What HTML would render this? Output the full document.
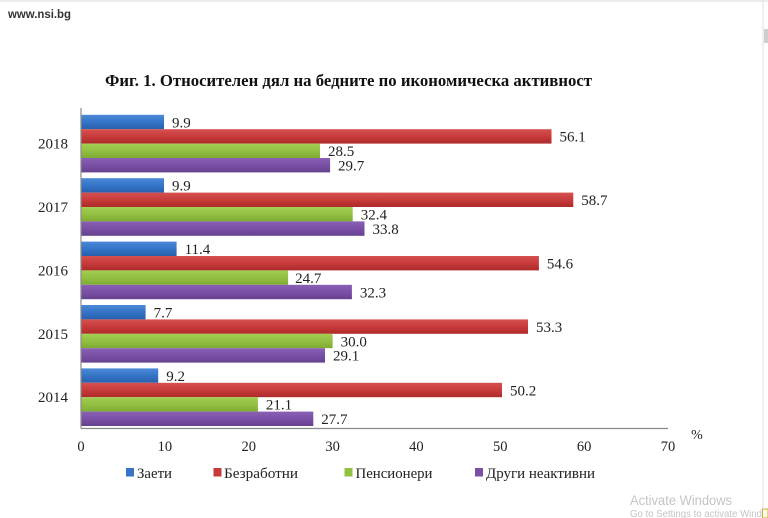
<!DOCTYPE html>
<html>
<head>
<meta charset="utf-8">
<style>
  html,body{margin:0;padding:0;background:#fff;}
  body{width:768px;height:518px;overflow:hidden;position:relative;}
  svg{display:block;}
  .ser{font-family:"Liberation Serif","Noto Serif CJK SC",serif;}
  .san{font-family:"Liberation Sans","Noto Sans CJK SC",sans-serif;}
</style>
</head>
<body>
<svg width="768" height="518" viewBox="0 0 768 518" xmlns="http://www.w3.org/2000/svg">
  <defs>
    <linearGradient id="gB" x1="0" y1="0" x2="0" y2="1">
      <stop offset="0" stop-color="#4a8ad8"/>
      <stop offset="0.5" stop-color="#3574c6"/>
      <stop offset="1" stop-color="#2860ad"/>
    </linearGradient>
    <linearGradient id="gR" x1="0" y1="0" x2="0" y2="1">
      <stop offset="0" stop-color="#d65050"/>
      <stop offset="0.5" stop-color="#c83b3b"/>
      <stop offset="1" stop-color="#ae2a2a"/>
    </linearGradient>
    <linearGradient id="gG" x1="0" y1="0" x2="0" y2="1">
      <stop offset="0" stop-color="#a3cf52"/>
      <stop offset="0.5" stop-color="#92c042"/>
      <stop offset="1" stop-color="#7eaa32"/>
    </linearGradient>
    <linearGradient id="gP" x1="0" y1="0" x2="0" y2="1">
      <stop offset="0" stop-color="#8a60b6"/>
      <stop offset="0.5" stop-color="#7a50a6"/>
      <stop offset="1" stop-color="#66408e"/>
    </linearGradient>
  </defs>

  <!-- browser chrome bits -->
  <rect x="0" y="0" width="768" height="2" fill="#ececec"/>
  <line x1="763" y1="0" x2="763" y2="518" stroke="#e2e2e2" stroke-width="1"/>
  <rect x="764" y="29" width="4" height="14" fill="#cfcfcf"/>

  <!-- site label -->
  <text x="8" y="18" class="san" font-size="11.5" font-weight="bold" fill="#333" textLength="63" lengthAdjust="spacingAndGlyphs">www.nsi.bg</text>

  <!-- title -->
  <text x="105" y="86" class="ser" font-size="16.5" font-weight="bold" fill="#111" textLength="487" lengthAdjust="spacingAndGlyphs">Фиг. 1. Относителен дял на бедните по икономическа активност</text>

  <!-- bars -->
  <g id="bars">
    <rect x="81" y="114.8" width="83.0" height="14.4" fill="url(#gB)"/>
    <rect x="81" y="129.2" width="470.5" height="14.4" fill="url(#gR)"/>
    <rect x="81" y="143.6" width="239.0" height="14.4" fill="url(#gG)"/>
    <rect x="81" y="158.0" width="249.1" height="14.4" fill="url(#gP)"/>

    <rect x="81" y="178.2" width="83.0" height="14.4" fill="url(#gB)"/>
    <rect x="81" y="192.6" width="492.3" height="14.4" fill="url(#gR)"/>
    <rect x="81" y="207.0" width="271.7" height="14.4" fill="url(#gG)"/>
    <rect x="81" y="221.4" width="283.5" height="14.4" fill="url(#gP)"/>

    <rect x="81" y="241.6" width="95.6" height="14.4" fill="url(#gB)"/>
    <rect x="81" y="256.0" width="457.9" height="14.4" fill="url(#gR)"/>
    <rect x="81" y="270.4" width="207.1" height="14.4" fill="url(#gG)"/>
    <rect x="81" y="284.8" width="270.9" height="14.4" fill="url(#gP)"/>

    <rect x="81" y="305.0" width="64.6" height="14.4" fill="url(#gB)"/>
    <rect x="81" y="319.4" width="447.0" height="14.4" fill="url(#gR)"/>
    <rect x="81" y="333.8" width="251.6" height="14.4" fill="url(#gG)"/>
    <rect x="81" y="348.2" width="244.0" height="14.4" fill="url(#gP)"/>

    <rect x="81" y="368.4" width="77.2" height="14.4" fill="url(#gB)"/>
    <rect x="81" y="382.8" width="421.0" height="14.4" fill="url(#gR)"/>
    <rect x="81" y="397.2" width="176.9" height="14.4" fill="url(#gG)"/>
    <rect x="81" y="411.6" width="232.3" height="14.4" fill="url(#gP)"/>
  </g>

  <!-- axes -->
  <line x1="81" y1="108" x2="81" y2="428.5" stroke="#8a8a8a" stroke-width="1.2"/>
  <line x1="81" y1="428.5" x2="668" y2="428.5" stroke="#8a8a8a" stroke-width="1.2"/>

  <!-- value labels -->
  <g class="ser" font-size="15" fill="#222">
    <text x="172" y="127.3">9.9</text>
    <text x="559.5" y="141.7">56.1</text>
    <text x="328" y="156.1">28.5</text>
    <text x="338" y="170.5">29.7</text>

    <text x="172" y="190.7">9.9</text>
    <text x="581.3" y="205.1">58.7</text>
    <text x="360.7" y="219.5">32.4</text>
    <text x="372.5" y="233.9">33.8</text>

    <text x="184.6" y="254.1">11.4</text>
    <text x="546.9" y="268.5">54.6</text>
    <text x="295.1" y="282.9">24.7</text>
    <text x="359.9" y="297.3">32.3</text>

    <text x="153.6" y="317.5">7.7</text>
    <text x="536" y="331.9">53.3</text>
    <text x="340.6" y="346.3">30.0</text>
    <text x="333" y="360.7">29.1</text>

    <text x="166.2" y="380.9">9.2</text>
    <text x="510" y="395.3">50.2</text>
    <text x="265.9" y="409.7">21.1</text>
    <text x="321.3" y="424.1">27.7</text>
  </g>

  <!-- year labels -->
  <g class="ser" font-size="15" fill="#222" text-anchor="end">
    <text x="68" y="148.6">2018</text>
    <text x="68" y="212">2017</text>
    <text x="68" y="275.4">2016</text>
    <text x="68" y="338.8">2015</text>
    <text x="68" y="402.2">2014</text>
  </g>

  <!-- x tick labels -->
  <g class="ser" font-size="14.5" fill="#222" text-anchor="middle">
    <text x="81" y="451">0</text>
    <text x="164.9" y="451">10</text>
    <text x="248.7" y="451">20</text>
    <text x="332.6" y="451">30</text>
    <text x="416.4" y="451">40</text>
    <text x="500.3" y="451">50</text>
    <text x="584.1" y="451">60</text>
    <text x="668" y="451">70</text>
  </g>
  <text x="697" y="439" class="ser" font-size="14" fill="#222" text-anchor="middle">%</text>

  <!-- legend -->
  <rect x="126" y="468" width="8" height="8.5" fill="#3574c6"/>
  <text x="137" y="478" class="ser" font-size="15" fill="#222" textLength="35" lengthAdjust="spacingAndGlyphs">Заети</text>
  <rect x="213.5" y="468" width="8" height="8.5" fill="#c83b3b"/>
  <text x="224" y="478" class="ser" font-size="15" fill="#222" textLength="74" lengthAdjust="spacingAndGlyphs">Безработни</text>
  <rect x="344.5" y="468" width="8" height="8.5" fill="#92c042"/>
  <text x="355.5" y="478" class="ser" font-size="15" fill="#222" textLength="77" lengthAdjust="spacingAndGlyphs">Пенсионери</text>
  <rect x="475" y="468" width="8" height="8.5" fill="#7a50a6"/>
  <text x="486" y="478" class="ser" font-size="15" fill="#222" textLength="109" lengthAdjust="spacingAndGlyphs">Други неактивни</text>

  <!-- watermark -->
  <text x="630" y="505" class="san" font-size="13.5" fill="#c4c4c4" textLength="102" lengthAdjust="spacingAndGlyphs">Activate Windows</text>
  <text x="630" y="517" class="san" font-size="10.5" fill="#c4c4c4" textLength="132" lengthAdjust="spacingAndGlyphs">Go to Settings to activate Wind</text>
  <rect x="762.5" y="509" width="5.5" height="9" fill="#fffbe0" stroke="#c8a84a" stroke-width="1"/>
</svg>
</body>
</html>
